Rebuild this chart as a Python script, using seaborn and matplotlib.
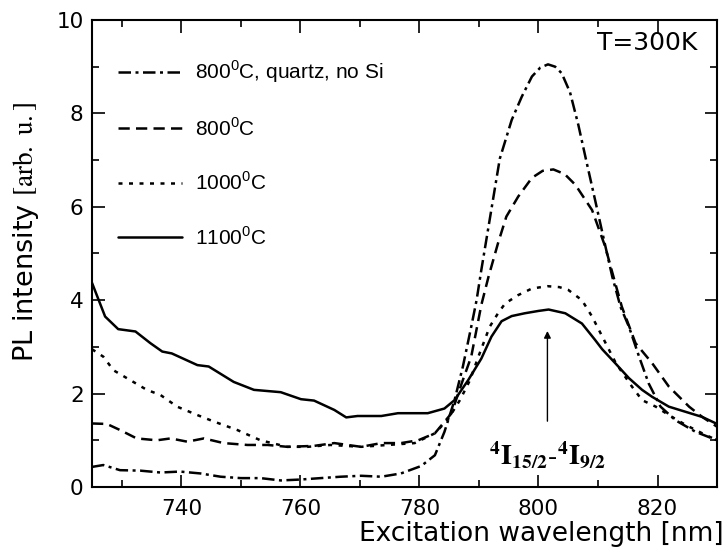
import matplotlib
matplotlib.use("Agg")
import matplotlib.pyplot as plt
import seaborn as sns
from matplotlib.ticker import MultipleLocator

# Datos
wl_quartz = [725, 726.9, 729.7, 733.1, 736.5, 739.8, 743.2, 746.6, 750, 753.3, 756.7, 760.1,
             763.4, 766.8, 770.2, 773.6, 776.9, 780.3, 782.6, 784.2, 785.9, 787.3, 788.7, 789.6,
             790.4, 791.6, 793.5, 795.5, 797.2, 798.9, 800.3, 801.6, 802.8, 803.9, 805.3, 806.7,
             808.0, 809.5, 811.0, 812.4, 813.8, 815.2, 816.9, 818.5, 820.5, 823.0, 826.4, 830]
pl_quartz = [0.43, 0.47, 0.36, 0.35, 0.31, 0.33, 0.29, 0.22, 0.19, 0.19, 0.14, 0.16,
             0.19, 0.22, 0.24, 0.22, 0.29, 0.45, 0.68, 1.18, 1.86, 2.58, 3.43, 4.0,
             4.65, 5.57, 7.03, 7.86, 8.36, 8.79, 8.98, 9.05, 9.0, 8.86, 8.45, 7.75,
             7.0, 6.15, 5.29, 4.50, 3.85, 3.43, 2.79, 2.22, 1.72, 1.43, 1.18, 1.0]

wl_800 = [725, 727.5, 729.7, 732.5, 735.9, 738.2, 741.0, 743.8, 747.1, 751.1, 754.5, 757.8,
          762.3, 765.7, 770.2, 773.6, 776.9, 779.8, 782.6, 785.4, 787.1, 788.7, 790.4, 791.6,
          793.2, 794.6, 796.6, 798.9, 800.7, 802.5, 804.4, 806.2, 809.0, 811.2, 812.9, 814.0,
          816.3, 819.1, 821.9, 825.3, 827.5, 830]
pl_800 = [1.36, 1.35, 1.22, 1.04, 1.0, 1.04, 0.97, 1.04, 0.94, 0.9, 0.9, 0.86,
          0.88, 0.94, 0.86, 0.94, 0.94, 1.0, 1.15, 1.58, 2.22, 2.79, 3.9, 4.5,
          5.22, 5.79, 6.22, 6.62, 6.77, 6.80, 6.70, 6.47, 5.93, 5.15, 4.36, 3.86,
          3.08, 2.65, 2.15, 1.72, 1.5, 1.29]

wl_1000 = [725, 726.9, 728.6, 731.4, 734.2, 736.5, 739.3, 742.7, 745.5, 749.4, 753.3, 757.8,
           761.2, 765.1, 770.2, 774.7, 779.2, 782.6, 784.8, 786.8, 788.5, 789.9, 791.8, 793.2,
           794.4, 796.6, 798.9, 801.5, 803.5, 805.0, 807.3, 809, 811, 813, 815.7, 817.4,
           819.7, 821.9, 824.7, 827.5, 830]
pl_1000 = [2.95, 2.79, 2.5, 2.29, 2.08, 1.97, 1.72, 1.54, 1.40, 1.22, 1.0, 0.86,
           0.86, 0.9, 0.86, 0.9, 0.94, 1.15, 1.45, 1.86, 2.29, 2.79, 3.43, 3.72,
           3.93, 4.11, 4.25, 4.30, 4.28, 4.22, 4.0, 3.65, 3.15, 2.65, 2.15, 1.86,
           1.72, 1.54, 1.33, 1.15, 1.0]

wl_1100 = [725, 727.2, 729.4, 732.3, 734.8, 736.8, 738.4, 742.7, 744.6, 748.8, 752.2, 756.7,
           760.1, 762.3, 765.7, 767.7, 769.6, 773.6, 776.4, 781.4, 784.2, 785.9, 788.2, 790.4,
           792.1, 793.8, 795.5, 797.7, 800, 801.7, 804.5, 807.3, 809.5, 810.7, 812.9, 815.2,
           817.4, 819.1, 821.9, 824.7, 827.5, 830]
pl_1100 = [4.37, 3.65, 3.38, 3.33, 3.08, 2.90, 2.86, 2.61, 2.58, 2.25, 2.08, 2.03,
           1.88, 1.85, 1.65, 1.49, 1.52, 1.52, 1.58, 1.58, 1.68, 1.86, 2.29, 2.75,
           3.22, 3.55, 3.66, 3.72, 3.77, 3.80, 3.72, 3.50, 3.15, 2.95, 2.65, 2.33,
           2.08, 1.93, 1.72, 1.61, 1.50, 1.35]

etiquetas = [r"800$^{\mathrm{0}}$C, quartz, no Si", r"800$^{\mathrm{0}}$C",
             r"1000$^{\mathrm{0}}$C", r"1100$^{\mathrm{0}}$C"]

sns.set_theme(style="ticks")
plt.rcParams["font.family"] = ["DejaVu Sans"]
plt.rcParams["mathtext.fontset"] = "custom"
plt.rcParams["mathtext.rm"] = "Liberation Sans"
plt.rcParams["axes.edgecolor"] = "black"
plt.rcParams["axes.linewidth"] = 1.5
plt.rcParams["text.color"] = "black"
plt.rcParams["axes.labelcolor"] = "black"
plt.rcParams["xtick.color"] = "black"
plt.rcParams["ytick.color"] = "black"

fig = plt.figure(figsize=(7.28, 5.57), dpi=100)
ax = fig.add_axes([0.1264, 0.1257, 0.8586, 0.8384])

estilos = [(0, (5, 1.8, 1.2, 1.8)), (0, (4.5, 2.5)), (0, (1.6, 2.6)), "-"]
series = [(wl_quartz, pl_quartz), (wl_800, pl_800), (wl_1000, pl_1000), (wl_1100, pl_1100)]

for (wl, pl), ls, lab in zip(series, estilos, etiquetas):
    sns.lineplot(x=wl, y=pl, ax=ax, color="black", linestyle=ls, linewidth=1.8,
                 label=lab, sort=False, estimator=None)

ax.set_xlim(725, 830)
ax.set_ylim(0, 10)
ax.xaxis.set_major_locator(MultipleLocator(20))
ax.xaxis.set_minor_locator(MultipleLocator(10))
ax.yaxis.set_major_locator(MultipleLocator(2))
ax.yaxis.set_minor_locator(MultipleLocator(1))
ax.tick_params(which="both", direction="in", top=True, right=True, color="black",
               labelcolor="black", labelsize=15.5, width=1.2)
ax.tick_params(which="major", length=9)
ax.tick_params(which="minor", length=5)
ax.tick_params(axis="x", pad=9)
ax.tick_params(axis="y", pad=6)
for s in ax.spines.values():
    s.set_visible(True)

ax.set_xlabel("Excitation wavelength [nm]", fontsize=19, ha="right", va="top")
ax.xaxis.set_label_coords(1.01, -0.072)
ax.set_ylabel(r"PL intensity $\mathrm{[arb.\ u.]}$", fontsize=19.5, va="center",
              math_fontfamily="stix")
ax.yaxis.set_label_coords(-0.105, 0.547)

ax.text(0.968, 0.95, "T=300K", transform=ax.transAxes, ha="right", va="center", fontsize=18)

# Flecha de la transición
ax.annotate("", xy=(801.5, 3.4), xytext=(801.5, 1.35),
            arrowprops=dict(arrowstyle="-|>", color="black", lw=1.0, mutation_scale=10))
ax.text(801.5, 0.7, r"$\mathbf{{}^4I_{15/2}\text{-}{}^4I_{9/2}}$", ha="center", va="center",
        fontsize=20, math_fontfamily="stix")

ax.legend(loc="upper left", bbox_to_anchor=(0.028, 0.935), frameon=False,
          prop={"family": "Liberation Sans", "size": 15},
          handlelength=3.1, handletextpad=0.58, labelspacing=1.53, borderaxespad=0)

fig.savefig("out.png", dpi=100)
